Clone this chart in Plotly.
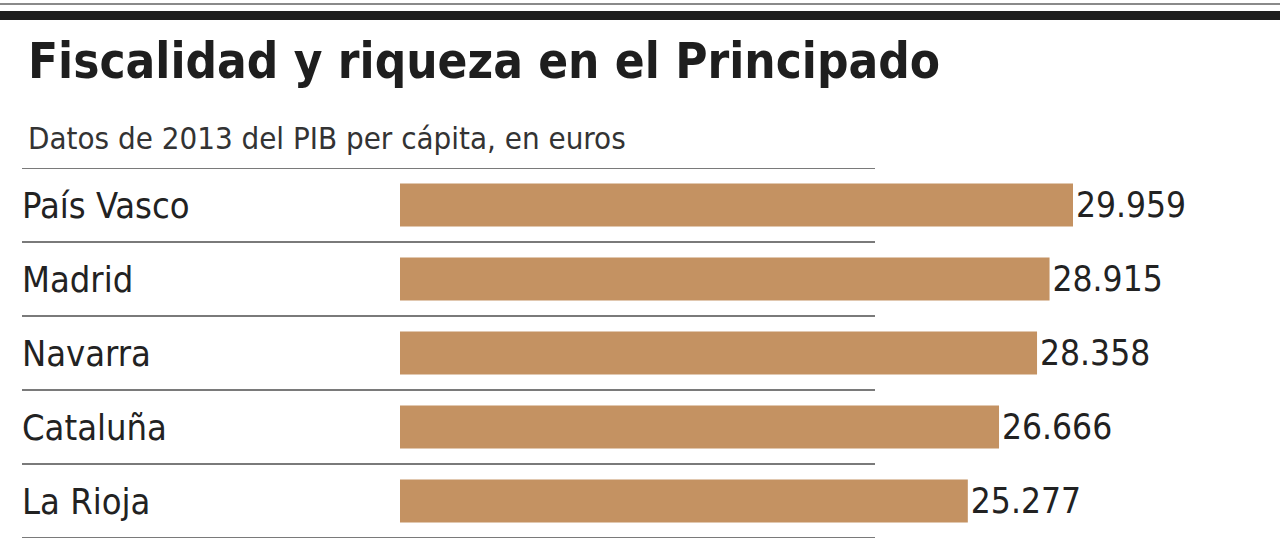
import plotly.graph_objects as go

categories = ["País Vasco", "Madrid", "Navarra", "Cataluña", "La Rioja"]
values = [29959, 28915, 28358, 26666, 25277]
title_text = "Fiscalidad y riqueza en el Principado"
subtitle_text = "Datos de 2013 del PIB per cápita, en euros"

W, H = 1280, 548
FONT = "Liberation Sans Narrow, DejaVu Sans Condensed, Roboto Condensed, Roboto, sans-serif"
TXT = "#222222"
BAR = "#C49262"
LINE = "#7a7a7a"

n = len(categories)
ypos = list(range(n))

fig = go.Figure()
fig.add_trace(go.Bar(
    x=values, y=ypos, orientation="h",
    marker=dict(color=BAR, line=dict(width=0)),
    width=0.58,
    texttemplate="%{x:,d}", textposition="outside",
    textfont=dict(family=FONT, size=35, color=TXT),
    cliponaxis=False, hoverinfo="skip",
))

# x scale: 0 at px 400, 29959 at px ~1073
x_dom0 = 400 / W
px_per_unit = (1073 - 400) / values[0]
x_max = (W - 400) / px_per_unit

y_top_px, y_bot_px = 168, 538
fig.update_layout(
    width=W, height=H,
    margin=dict(l=0, r=0, t=0, b=0),
    paper_bgcolor="white", plot_bgcolor="white",
    showlegend=False,
    separators=",.",
    xaxis=dict(domain=[x_dom0, 1], range=[0, x_max], visible=False, fixedrange=True),
    yaxis=dict(domain=[1 - y_bot_px / H, 1 - y_top_px / H], range=[n - 0.5, -0.5],
               visible=False, fixedrange=True),
    font=dict(family=FONT, color=TXT),
)

shapes = []
# top rules
shapes.append(dict(type="rect", xref="paper", yref="paper", x0=0, x1=1,
                   y0=1 - 5 / H, y1=1 - 3 / H, fillcolor="#8a8a8a", line=dict(width=0)))
shapes.append(dict(type="rect", xref="paper", yref="paper", x0=0, x1=1,
                   y0=1 - 20 / H, y1=1 - 11 / H, fillcolor="#1e1e1e", line=dict(width=0)))
# separators
for k in range(n + 1):
    yy = k - 0.5
    shapes.append(dict(type="line", xref="paper", yref="y", x0=22 / W, x1=875 / W,
                       y0=yy, y1=yy, line=dict(color=LINE, width=2), layer="below"))
fig.update_layout(shapes=shapes)

ann = []
ann.append(dict(text="<b>" + title_text + "</b>", xref="paper", yref="paper",
                x=26 / W, y=1 - 61 / H, xanchor="left", yanchor="middle", showarrow=False,
                font=dict(family=FONT, size=49, color="#1e1e1e")))
ann.append(dict(text=subtitle_text, xref="paper", yref="paper",
                x=26 / W, y=1 - 138 / H, xanchor="left", yanchor="middle", showarrow=False,
                font=dict(family=FONT, size=31, color="#333333")))
for i, c in enumerate(categories):
    ann.append(dict(text=c, xref="paper", yref="y", x=20 / W, y=i,
                    xanchor="left", yanchor="middle", showarrow=False,
                    font=dict(family=FONT, size=36, color=TXT)))
fig.update_layout(annotations=ann)

fig.write_html("out.html", config={"displayModeBar": False},
               post_script="document.body.style.margin='0';")
